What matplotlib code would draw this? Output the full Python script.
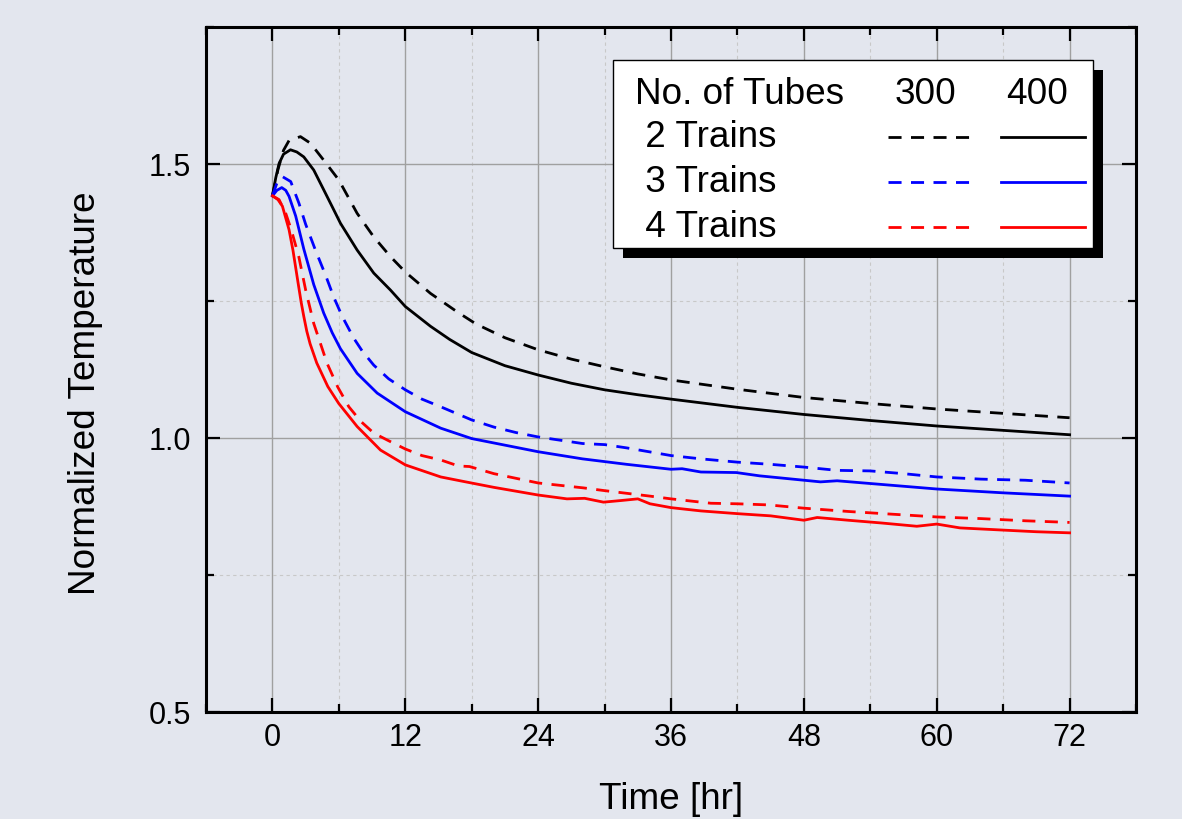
import matplotlib
matplotlib.use('Agg')
from matplotlib import pyplot as plt
import matplotlib.patches as patches
from matplotlib.ticker import MultipleLocator

plt.rcParams['font.family'] = ['Liberation Sans', 'DejaVu Sans']

BG = '#e3e6ee'

# 2 trains
t_2_400 = [0, 0.3, 0.6, 1.0, 1.63, 2.2, 2.83, 3.73, 4.63, 5.4, 6.14, 7.65, 9.15,
           10.66, 12.0, 14.27, 16.0, 18.0, 21, 24, 27, 30, 33, 36, 42, 48, 54, 60,
           66, 72]
y_2_400 = [1.442, 1.475, 1.501, 1.518, 1.526, 1.522, 1.513, 1.489, 1.453, 1.422,
           1.392, 1.343, 1.301, 1.270, 1.240, 1.204, 1.180, 1.156, 1.132, 1.115,
           1.100, 1.088, 1.079, 1.071, 1.056, 1.043, 1.032, 1.022, 1.014, 1.006]
t_2_300 = [0, 0.5, 1.0, 1.5, 2.53, 3.43, 4.63, 5.99, 7.65, 9.15, 10.66, 12.0,
           14.27, 16.7, 18.4, 21, 24, 27, 30, 33, 36, 42, 48, 54, 60, 66, 72]
y_2_300 = [1.442, 1.490, 1.525, 1.543, 1.550, 1.538, 1.507, 1.471, 1.410, 1.367,
           1.331, 1.303, 1.264, 1.230, 1.208, 1.183, 1.161, 1.144, 1.130, 1.117,
           1.106, 1.089, 1.074, 1.063, 1.053, 1.045, 1.037]

# 3 trains
t_3_400 = [0, 0.4, 0.84, 1.2, 1.5, 2.1, 2.83, 3.73, 4.63, 5.4, 6.14, 7.65, 9.46,
           12.0, 15.2, 18.0, 20, 24, 28, 32, 36, 37, 38.7, 41.9, 44, 48, 49.5, 51,
           54, 60, 66, 72]
y_3_400 = [1.442, 1.452, 1.457, 1.452, 1.441, 1.405, 1.345, 1.280, 1.228, 1.192,
           1.163, 1.118, 1.082, 1.048, 1.018, 0.999, 0.991, 0.975, 0.962, 0.952,
           0.943, 0.944, 0.938, 0.937, 0.931, 0.923, 0.920, 0.922, 0.917, 0.907,
           0.900, 0.894]
t_3_300 = [0, 0.4, 0.9, 1.65, 2.4, 3.0, 3.88, 4.8, 5.54, 6.3, 7.35, 8.1, 9.15,
           10.5, 12.0, 13.5, 15.2, 18.0, 20, 22, 24, 28, 30, 32, 36, 38.7, 42, 45,
           48, 51, 54, 57, 60, 64, 68, 72]
y_3_300 = [1.442, 1.465, 1.477, 1.468, 1.428, 1.390, 1.343, 1.297, 1.257, 1.222,
           1.182, 1.159, 1.133, 1.108, 1.088, 1.071, 1.057, 1.033, 1.020, 1.010,
           1.002, 0.990, 0.988, 0.982, 0.968, 0.962, 0.956, 0.952, 0.947, 0.941,
           0.940, 0.935, 0.929, 0.925, 0.923, 0.918]

# 4 trains
t_4_400 = [0, 0.5, 0.9, 1.5, 1.85, 2.3, 2.6, 2.83, 3.1, 3.4, 4.0, 5.0, 5.99, 7.65,
           9.76, 12.0, 15.2, 17.2, 20, 24, 26.6, 28.2, 29.9, 31.5, 33, 34.1, 36,
           38.7, 42, 45, 48, 49.2, 52, 55, 58.2, 60, 62.1, 66, 69, 72]
y_4_400 = [1.442, 1.435, 1.423, 1.380, 1.343, 1.285, 1.247, 1.222, 1.195, 1.172,
           1.137, 1.094, 1.063, 1.021, 0.978, 0.951, 0.929, 0.921, 0.910, 0.896,
           0.889, 0.890, 0.883, 0.886, 0.889, 0.880, 0.873, 0.867, 0.862, 0.858,
           0.850, 0.855, 0.850, 0.845, 0.839, 0.843, 0.836, 0.832, 0.829, 0.827]
t_4_300 = [0, 0.6, 1.2, 1.7, 2.38, 3.0, 3.73, 4.94, 5.9, 6.9, 8.0, 9.15, 10.4,
           12.0, 13.5, 15.2, 16.8, 17.8, 20, 24, 28.1, 30, 34.1, 36, 39.6, 42,
           44.8, 48, 52, 56, 60, 64, 68, 72]
y_4_300 = [1.442, 1.435, 1.410, 1.380, 1.331, 1.270, 1.209, 1.136, 1.093, 1.057,
           1.030, 1.009, 0.996, 0.980, 0.968, 0.960, 0.949, 0.948, 0.935, 0.918,
           0.909, 0.904, 0.894, 0.889, 0.881, 0.880, 0.878, 0.872, 0.866, 0.861,
           0.856, 0.853, 0.849, 0.846]

series = [
    (' 2 Trains', 'black', t_2_300, y_2_300, t_2_400, y_2_400),
    (' 3 Trains', '#0000ff', t_3_300, y_3_300, t_3_400, y_3_400),
    (' 4 Trains', '#ff0000', t_4_300, y_4_300, t_4_400, y_4_400),
]
tube_counts = ['300', '400']

DASH = (4.7, 3.4)
LW = 2.0
FS = 26.6

fig = plt.figure(figsize=(11.82, 8.19), dpi=100, facecolor=BG)
ax = fig.add_axes([0.1743, 0.1306, 0.7868, 0.8364], facecolor=BG)

for name, c, t3, y3, t4, y4 in series:
    ax.plot(t3, y3, color=c, lw=LW, dashes=DASH, zorder=3)
    ax.plot(t4, y4, color=c, lw=LW, zorder=3, solid_joinstyle='round')

ax.set_xlim(-6, 78)
ax.set_ylim(0.5, 1.75)
ax.xaxis.set_major_locator(MultipleLocator(12))
ax.xaxis.set_minor_locator(MultipleLocator(6))
ax.yaxis.set_major_locator(MultipleLocator(0.5))
ax.yaxis.set_minor_locator(MultipleLocator(0.25))
ax.yaxis.set_major_formatter(plt.FuncFormatter(lambda v, p: '%.1f' % v))

ax.grid(which='major', color='#a0a0a0', lw=1.0, ls='-', zorder=1)
ax.grid(which='minor', color='#c8c8c8', lw=0.8, ls=(0, (3, 3)), zorder=1)
ax.set_axisbelow(True)

ax.tick_params(which='both', direction='in', top=True, right=True, width=1.6,
               colors='black', labelsize=22)
ax.tick_params(which='major', length=10)
ax.tick_params(which='minor', length=5.5)
ax.tick_params(axis='x', pad=8)
ax.tick_params(axis='y', pad=11)
for sp in ax.spines.values():
    sp.set_linewidth(2.2)

ax.set_xlabel('Time [hr]', fontsize=FS)
ax.set_ylabel('Normalized Temperature', fontsize=FS)
ax.xaxis.set_label_coords(0.5, -0.102)
ax.yaxis.set_label_coords(-0.111, 0.466)

# legend table
x0, x1, y0, y1 = 0.4376, 0.9538, 0.6774, 0.9518
shadow = patches.Rectangle((x0 + 0.0108, y0 - 0.0146), x1 - x0, y1 - y0,
                           transform=ax.transAxes, facecolor='black',
                           edgecolor='none', zorder=9)
box = patches.Rectangle((x0, y0), x1 - x0, y1 - y0, transform=ax.transAxes,
                        facecolor='white', edgecolor='black', lw=1.0, zorder=10)
ax.add_patch(shadow)
ax.add_patch(box)

ax.text(0.4613, 0.9010, 'No. of Tubes', transform=ax.transAxes, fontsize=FS,
        va='center', ha='left', zorder=11)
for xc, lab in zip([0.7731, 0.8935], tube_counts):
    ax.text(xc, 0.9010, lab, transform=ax.transAxes, fontsize=FS,
            va='center', ha='center', zorder=11)

row_y = [0.8394, 0.7737, 0.7080]
for ry, (name, c, *_ ) in zip(row_y, series):
    ax.text(0.4613, ry, name, transform=ax.transAxes, fontsize=FS,
            va='center', ha='left', zorder=11)
    ax.plot([0.7333, 0.8237], [ry, ry], transform=ax.transAxes, color=c,
            lw=LW, dashes=DASH, zorder=11, clip_on=False)
    ax.plot([0.8548, 0.9452], [ry, ry], transform=ax.transAxes, color=c,
            lw=LW, zorder=11, clip_on=False)

fig.savefig('out.png', dpi=100, facecolor=BG)
